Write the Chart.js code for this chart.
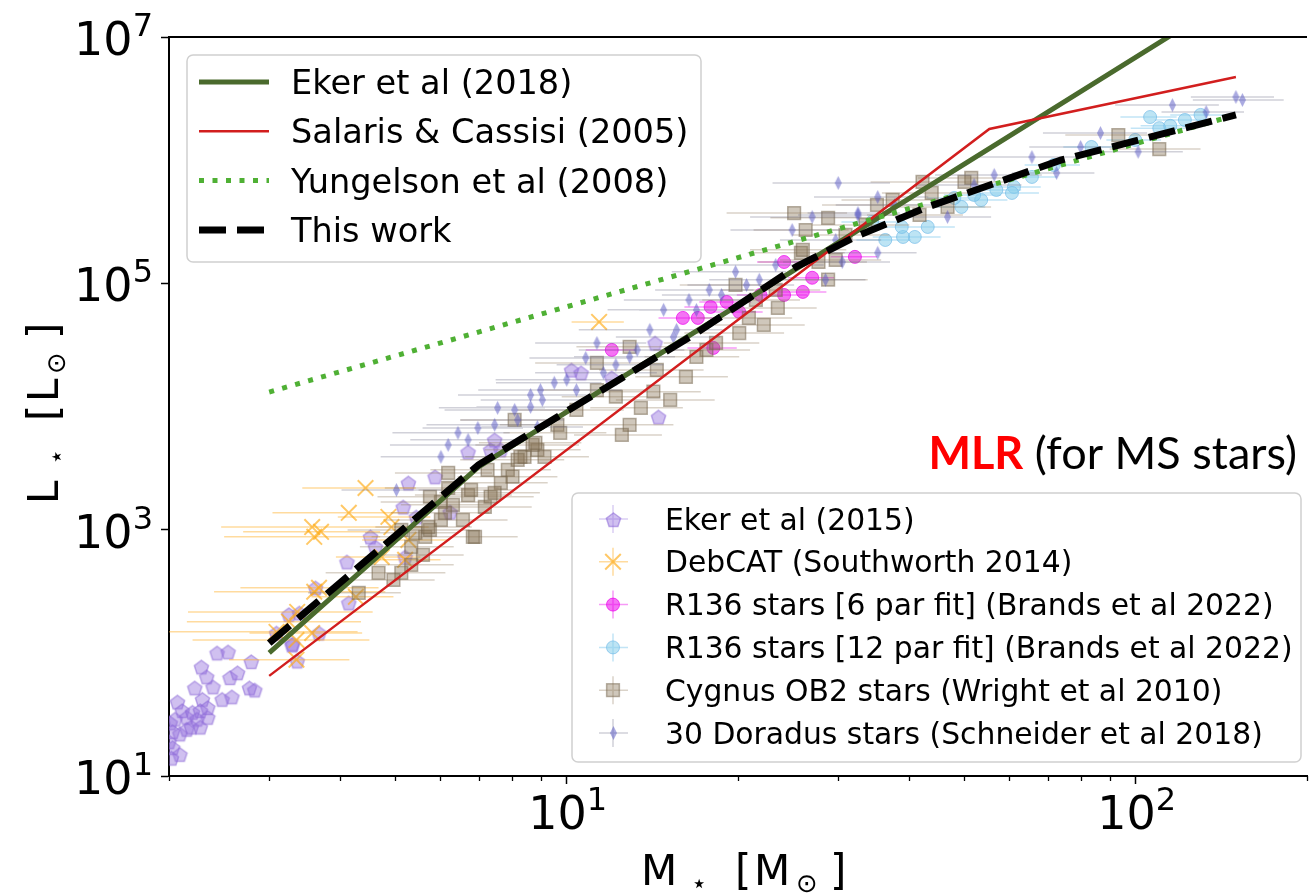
<!DOCTYPE html>
<html>
<head>
<meta charset="utf-8">
<script src="https://cdn.jsdelivr.net/npm/chart.js@4"></script>
<style>
  html, body { margin: 0; padding: 0; background: #fff; overflow: hidden; }
  #wrap { width: 1311px; height: 893px; overflow: hidden; }
  canvas { display: block; }
</style>
</head>
<body>
<div id="wrap"><canvas id="mlr" width="1320" height="893"></canvas></div>
<script>
/* ===============================
   Axis ranges and ticks
================================ */
const massRange = [2, 200];
const lumRange = [10, 1e7];
const xMajorTicks = [10, 100];
const xMinorTicks = [2, 3, 4, 5, 6, 7, 8, 9, 20, 30, 40, 50, 60, 70, 80, 90, 200];
const yMajorTicks = [10, 1e3, 1e5, 1e7];

/* ===============================
   Mass-luminosity relations
================================ */
const ekerMass = [3, 7, 150];
const ekerLum = [100, 3240, 2.2e7];

const salarisMass = [3, 55.3, 150];
const salarisLum = [65, 1.79e6, 4.73e6];

const yungelsonMass = [3, 150];
const yungelsonLum = [1.31e4, 2.33e6];

const thisWorkMass = [3, 7, 9.25, 16.9, 25.3, 32.1, 43.1, 73.8, 150];
const thisWorkLum = [120, 3360, 7360, 3.95e4, 1.36e5, 2.38e5, 4.17e5, 1.0e6, 2.33e6];

/* ===============================
   Star samples: [mass, lum, mass error]
================================ */
const eker2015Stars = [
  [2.43, 100], [2.54, 102], [2.28, 77], [2.79, 85], [2.56, 63], [2.64, 69], [2.77, 52],
  [2.83, 50], [2.22, 52], [2.33, 64], [2.29, 42], [2.39, 53], [2.48, 42], [2.58, 44],
  [2.07, 40], [2.11, 34], [2.15, 30], [2.20, 33], [2.27, 34], [2.34, 30], [2.05, 29],
  [2.03, 23], [2.09, 22], [2.15, 24], [2.19, 25], [2.03, 17], [2.09, 15], [2.02, 14],
  [2.24, 29], [2.34, 36], [2.27, 25], [2.00, 19], [2.01, 27],
  [5.27, 2400], [5.16, 1530], [4.52, 875], [4.11, 548], [3.62, 337], [3.39, 211],
  [3.29, 116], [4.14, 255], [3.67, 145], [3.09, 145], [6.24, 1390], [5.44, 1270],
  [5.20, 600], [7.35, 4450], [4.61, 725], [10.2, 19800], [14.5, 8240], [7.47, 5360],
  [14.3, 32800], [5.87, 2690], [3.30, 118], [3.36, 86], [3.25, 205],
  [7.66, 4450], [10.6, 18800], [12.0, 17100], [6.71, 4280]
];

const debcatStars = [
  [4.43, 2180, 1.0], [3.57, 1050, 1.1], [3.70, 960, 1.0], [3.60, 875, 1.1], [4.14, 1370, 1.1],
  [4.86, 1270, 0.9], [4.92, 1050, 0.8], [5.27, 826, 0.9], [3.60, 313, 1.2], [3.67, 337, 1.0],
  [3.36, 215, 1.2], [3.35, 88, 0.8], [3.09, 148, 1.2], [3.57, 145, 0.8], [4.26, 285, 0.7],
  [4.73, 600, 0.8], [5.20, 569, 0.8], [11.4, 48600, 1.2], [3.35, 127, 1.15], [3.25, 179, 1.1]
];

const r136SixPar = [
  [12.0, 28800, 1.2], [16.0, 52400, 1.5], [17.0, 52400, 1.6], [17.9, 64300, 1.8],
  [19.1, 70600, 2.0], [20.1, 58600, 2.0], [24.1, 149000, 2.5], [27.0, 111000, 2.5],
  [26.0, 85200, 2.6], [24.1, 80500, 2.4], [32.1, 164000, 3.0], [18.1, 29900, 1.8],
  [21.9, 80500, 2.0]
];

const r136TwelvePar = [
  [106, 2.24e6, 12], [110, 1.82e6, 12], [115, 1.90e6, 13], [122, 2.12e6, 14], [130, 2.33e6, 15],
  [99.8, 1.46e6, 11], [83.6, 1.28e6, 9], [71.8, 9.14e5, 8], [65.7, 7.31e5, 7], [61.1, 6.06e5, 7],
  [56.9, 5.73e5, 6], [53.5, 4.75e5, 6], [52.0, 5.22e5, 6], [49.4, 4.17e5, 5], [43.1, 2.87e5, 5],
  [40.9, 2.38e5, 4.5], [39.0, 2.38e5, 4.5], [38.8, 2.87e5, 4], [36.3, 2.25e5, 4],
  [60.6, 5.42e5, 7], [34.4, 3.15e5, 4], [48.0, 4.93e5, 5]
];

const cygnusStars = [
  [4.31, 307, 0.8], [4.67, 446, 0.9], [5.12, 446, 1.0], [5.33, 518, 1.0], [6.84, 875, 1.2],
  [5.64, 875, 1.1], [5.75, 995, 1.0], [6.01, 1200, 1.2], [6.01, 1680, 1.3], [5.75, 1850, 1.1],
  [6.19, 2180, 1.4], [6.71, 1910, 1.3], [7.18, 1530, 1.5], [7.35, 1850, 1.4], [7.66, 2400, 1.6],
  [7.88, 3060, 1.5], [8.43, 3900, 1.8], [8.88, 4450, 1.7], [8.03, 2690, 1.6], [5.33, 725, 1.0],
  [5.12, 995, 1.0], [7.47, 1990, 1.5],
  [6.31, 1590, 1.2], [6.57, 1200, 1.3], [7.26, 3060, 1.5], [8.20, 3690, 1.7], [8.71, 4880, 1.8],
  [9.63, 7100, 2.0], [10.4, 9380, 2.2], [11.3, 13600, 2.4], [14.4, 19800, 3.0], [17.6, 28800, 3.4],
  [21.5, 73300, 4.2], [23.3, 88400, 4.6], [30.9, 247000, 6], [33.5, 298000, 6.5],
  [4.96, 391, 0.9], [5.59, 624, 1.0],
  [25.1, 3.72e5, 6], [28.8, 3.40e5, 6], [26.3, 2.71e5, 5], [25.8, 1.77e5, 5], [27.7, 1.49e5, 6],
  [28.8, 1.07e5, 5], [19.8, 9.70e4, 4], [23.5, 6.31e4, 4], [22.2, 4.59e4, 4], [20.9, 5.24e4, 4],
  [20.1, 3.95e4, 4], [16.2, 1.74e4, 3], [15.2, 1.13e4, 3], [14.2, 1.32e4, 3], [13.5, 9750, 2.5],
  [12.9, 7100, 2.5], [12.5, 5880, 2.2], [11.3, 2.26e4, 2.5], [12.9, 3.05e4, 2.5], [12.2, 1.20e4, 2.4],
  [9.74, 6110, 2], [8.29, 3900, 1.6], [6.79, 2100, 1.3], [6.90, 875, 1.3], [5.71, 1050, 1.1],
  [6.11, 1370, 1.2], [5.42, 942, 1.0], [6.19, 2890, 1.2], [8.10, 7780, 1.6], [8.81, 5070, 1.8],
  [9.14, 3900, 1.8], [18.3, 3.28e4, 3.5], [16.9, 2.53e4, 3.2],
  [93.2, 1.60e6, 18], [110, 1.23e6, 20], [51.4, 7.18e5, 10], [50.0, 6.66e5, 9], [42.2, 6.66e5, 8],
  [43.8, 5.42e5, 8], [46.7, 4.17e5, 9], [37.4, 4.75e5, 7], [35.1, 4.33e5, 7], [41.7, 3.59e5, 8],
  [26.0, 1.87e5, 5], [29.7, 1.55e5, 6]
];

const dor30Stars = [
  [6.01, 3900, 1.3], [6.44, 6110, 1.5], [6.98, 6700, 1.4], [7.47, 7100, 1.8], [8.10, 9380, 2.0],
  [8.64, 9930, 1.7], [5.02, 2100, 1.0], [7.56, 9750, 1.6], [8.64, 12400, 2.2], [9.51, 15600, 2.0],
  [10.0, 16500, 2.5], [10.8, 24800, 2.2], [11.6, 18800, 2.8], [12.9, 25300, 2.6], [14.0, 41900, 3.5],
  [14.8, 60900, 3.0], [16.4, 73300, 3.8], [17.8, 88400, 3.5], [19.8, 124000, 4.5], [21.8, 107000, 4.0],
  [24.9, 271000, 5.5], [27.0, 346000, 6.0], [28.5, 107000, 5.0], [30.5, 149000, 6.5],
  [32.5, 359000, 7.0], [35.2, 177000, 6.0], [8.88, 6820, 1.8], [11.3, 32800, 2.5],
  [15.4, 36700, 3.2], [8.99, 13600, 2.0], [150, 3.26e6, 25], [154, 3.08e6, 28], [133, 2.46e6, 22],
  [86.7, 1.66e6, 18], [80.0, 1.28e6, 15], [65.7, 1.06e6, 14], [72.6, 7.87e5, 12], [101, 1.17e6, 20],
  [30.0, 6.53e5, 7], [35.2, 5.02e5, 8], [32.5, 3.72e5, 6], [46.7, 3.46e5, 9],
  [6.19, 4880, 1.3], [6.71, 5360, 1.4], [8.20, 7780, 1.7], [9.06, 11300, 2.0], [10.4, 13600, 2.1],
  [12.2, 21800, 2.6], [13.3, 28800, 2.8], [15.6, 41900, 3.2], [16.9, 60800, 3.5], [18.7, 80500, 4.0],
  [20.7, 97000, 4.4], [23.3, 141000, 5.0], [29.7, 225000, 6.0], [37.7, 433000, 8.0],
  [52.0, 630000, 11], [56.4, 759000, 12], [116, 2.8e6, 24]
];

/* ===============================
   Marker sprites
================================ */
function makePentagon(r, fill, stroke, lw) {
  const s = Math.ceil(2 * r + lw + 2);
  const c = document.createElement("canvas");
  c.width = c.height = s;
  const g = c.getContext("2d");
  g.beginPath();
  for (let i = 0; i < 5; i++) {
    const a = -Math.PI / 2 + (i * 2 * Math.PI) / 5;
    g.lineTo(s / 2 + r * Math.cos(a), s / 2 + 1 + r * Math.sin(a));
  }
  g.closePath();
  g.fillStyle = fill;
  g.fill();
  g.lineWidth = lw;
  g.strokeStyle = stroke;
  g.stroke();
  return c;
}

function makeThinDiamond(hw, hh, fill) {
  const c = document.createElement("canvas");
  c.width = Math.ceil(2 * hw + 2);
  c.height = Math.ceil(2 * hh + 2);
  const g = c.getContext("2d");
  const cx = c.width / 2, cy = c.height / 2;
  g.beginPath();
  g.moveTo(cx, cy - hh);
  g.lineTo(cx + hw, cy);
  g.lineTo(cx, cy + hh);
  g.lineTo(cx - hw, cy);
  g.closePath();
  g.fillStyle = fill;
  g.fill();
  return c;
}

const pentagonSprite = makePentagon(7.5, "rgba(150,115,222,0.45)", "rgba(140,105,215,0.55)", 1.5);
const diamondSprite = makeThinDiamond(3.5, 7, "rgba(85,85,195,0.5)");

/* ===============================
   Dataset builders
================================ */
const toPoints = (xs, ys) => xs.map((x, i) => ({ x: x, y: ys[i] }));
const starPoints = (stars) => stars.map((s) => ({ x: s[0], y: s[1] }));

// horizontal error bars as broken line segments
function errorSegments(stars) {
  const out = [];
  stars.forEach(([m, l, dm]) => {
    out.push({ x: m - dm, y: l }, { x: m + dm, y: l }, { x: m, y: null });
  });
  return out;
}

function errorDataset(stars, color, order) {
  return {
    type: "line",
    data: errorSegments(stars),
    borderColor: color,
    borderWidth: 1.5,
    pointRadius: 0,
    spanGaps: false,
    order: order,
  };
}

const lineSets = [
  { type: "line", label: "Eker et al (2018)", data: toPoints(ekerMass, ekerLum),
    borderColor: "#4a6a2d", borderWidth: 5, pointRadius: 0, order: 3 },
  { type: "line", label: "Salaris & Cassisi (2005)", data: toPoints(salarisMass, salarisLum),
    borderColor: "#d21e1e", borderWidth: 2.5, pointRadius: 0, order: 2 },
  { type: "line", label: "Yungelson et al (2008)", data: toPoints(yungelsonMass, yungelsonLum),
    borderColor: "#4fb034", borderWidth: 5, borderDash: [5, 8.5], borderCapStyle: "butt",
    pointRadius: 0, order: 1 },
  { type: "line", label: "This work", data: toPoints(thisWorkMass, thisWorkLum),
    borderColor: "#000000", borderWidth: 7, borderDash: [27, 11], borderCapStyle: "butt",
    pointRadius: 0, order: 0 },
];

const starSets = [
  { type: "scatter", label: "Eker et al (2015)", data: starPoints(eker2015Stars),
    pointStyle: pentagonSprite, pointRadius: 7, order: 9,
    errColor: "rgba(150,115,222,0.35)" },
  { type: "scatter", label: "DebCAT (Southworth 2014)", data: starPoints(debcatStars),
    pointStyle: "crossRot", pointRadius: 11, borderWidth: 2,
    borderColor: "rgba(255,170,20,0.65)", backgroundColor: "rgba(255,170,20,0.65)", order: 8,
    errColor: "rgba(255,175,40,0.45)" },
  { type: "scatter", label: "R136 stars [6 par fit] (Brands et al 2022)", data: starPoints(r136SixPar),
    pointStyle: "circle", pointRadius: 6.5, borderWidth: 1,
    backgroundColor: "rgba(235,0,235,0.55)", borderColor: "rgba(235,0,235,0.7)", order: 7,
    errColor: "rgba(235,0,235,0.4)" },
  { type: "scatter", label: "R136 stars [12 par fit] (Brands et al 2022)", data: starPoints(r136TwelvePar),
    pointStyle: "circle", pointRadius: 6.5, borderWidth: 1,
    backgroundColor: "rgba(135,206,235,0.55)", borderColor: "rgba(110,185,230,0.65)", order: 6,
    errColor: "rgba(120,195,235,0.45)" },
  { type: "scatter", label: "Cygnus OB2 stars (Wright et al 2010)", data: starPoints(cygnusStars),
    pointStyle: "rect", pointRadius: 9, borderWidth: 1.5,
    backgroundColor: "rgba(135,115,85,0.4)", borderColor: "rgba(115,100,75,0.5)", order: 5,
    errColor: "rgba(150,130,100,0.35)" },
  { type: "scatter", label: "30 Doradus stars (Schneider et al 2018)", data: starPoints(dor30Stars),
    pointStyle: diamondSprite, pointRadius: 5, order: 4,
    errColor: "rgba(115,115,140,0.33)" },
];

const errorSets = [
  errorDataset(debcatStars, starSets[1].errColor, 8.5),
  errorDataset(r136SixPar, starSets[2].errColor, 7.5),
  errorDataset(r136TwelvePar, starSets[3].errColor, 6.5),
  errorDataset(cygnusStars, starSets[4].errColor, 5.5),
  errorDataset(dor30Stars, starSets[5].errColor, 4.5),
];

/* ===============================
   Decorations: spines, ticks, labels, legends
================================ */
const FONT = "'DejaVu Sans', sans-serif";

function drawBox(ctx, x0, y0, x1, y1, r) {
  ctx.save();
  ctx.beginPath();
  ctx.moveTo(x0 + r, y0);
  ctx.arcTo(x1, y0, x1, y1, r);
  ctx.arcTo(x1, y1, x0, y1, r);
  ctx.arcTo(x0, y1, x0, y0, r);
  ctx.arcTo(x0, y0, x1, y0, r);
  ctx.closePath();
  ctx.fillStyle = "rgba(255,255,255,0.8)";
  ctx.fill();
  ctx.strokeStyle = "#d0d0d0";
  ctx.lineWidth = 1.5;
  ctx.stroke();
  ctx.restore();
}

function drawMarker(ctx, ds, x, y) {
  const st = ds.pointStyle;
  if (st instanceof HTMLCanvasElement) {
    ctx.drawImage(st, Math.round(x - st.width / 2), Math.round(y - st.height / 2));
    return;
  }
  const r = ds.pointRadius;
  ctx.fillStyle = ds.backgroundColor;
  ctx.strokeStyle = ds.borderColor;
  ctx.lineWidth = ds.borderWidth;
  ctx.beginPath();
  if (st === "circle") ctx.arc(x, y, r, 0, 2 * Math.PI);
  else if (st === "rect") {
    const h = r * Math.SQRT1_2;
    ctx.rect(x - h, y - h, 2 * h, 2 * h);
  } else if (st === "crossRot") {
    const h = r * Math.SQRT1_2;
    ctx.moveTo(x - h, y - h); ctx.lineTo(x + h, y + h);
    ctx.moveTo(x + h, y - h); ctx.lineTo(x - h, y + h);
  }
  if (st !== "crossRot") ctx.fill();
  ctx.stroke();
}

// "10" with a raised exponent
function drawPower(ctx, exp, x, baseY, align) {
  const sup = String(exp);
  ctx.font = "46px " + FONT;
  const wb = ctx.measureText("10").width;
  ctx.font = "32px " + FONT;
  const ws = ctx.measureText(sup).width;
  let left = align === "center" ? x - (wb + ws) / 2 : x - wb - ws;
  ctx.textAlign = "left";
  ctx.textBaseline = "alphabetic";
  ctx.font = "46px " + FONT;
  ctx.fillText("10", left, baseY);
  ctx.font = "32px " + FONT;
  ctx.fillText(sup, left + wb, baseY - 19);
}

// axis title pieces: [text, size, along-offset, baseline shift]
function drawPieces(ctx, pieces) {
  pieces.forEach(([t, size, dx, dy]) => {
    ctx.font = size + "px " + FONT;
    ctx.fillText(t, dx, dy);
  });
}

const decor = {
  id: "decor",
  afterDraw(chart) {
    const { ctx, chartArea: a, scales } = chart;
    const sx = scales.x, sy = scales.y;
    ctx.save();
    ctx.fillStyle = "#000";
    ctx.strokeStyle = "#000";

    // top spine
    ctx.lineWidth = 2;
    ctx.beginPath();
    ctx.moveTo(a.left, a.top);
    ctx.lineTo(a.right, a.top);
    ctx.stroke();

    // minor x ticks
    ctx.lineWidth = 1.3;
    xMinorTicks.forEach((v) => {
      const px = Math.round(sx.getPixelForValue(v)) + 0.5;
      ctx.beginPath();
      ctx.moveTo(px, a.bottom);
      ctx.lineTo(px, a.bottom + 5);
      ctx.stroke();
    });

    // tick labels
    xMajorTicks.forEach((v) => {
      drawPower(ctx, Math.round(Math.log10(v)), sx.getPixelForValue(v) + 1, a.bottom + 53, "center");
    });
    yMajorTicks.forEach((v) => {
      drawPower(ctx, Math.round(Math.log10(v)), 153, sy.getPixelForValue(v) + 18, "right");
    });

    // axis titles
    ctx.textAlign = "left";
    ctx.textBaseline = "alphabetic";
    ctx.save();
    ctx.translate((a.left + a.right) / 2 + 5, 885);
    drawPieces(ctx, [["M", 42, -102, 0], ["\u22C6", 26, -52, 7], ["[", 42, -8, 0],
                     ["M", 42, 11, 0], ["\u2299", 26, 53, 7], ["]", 42, 87, 0]]);
    ctx.restore();
    ctx.save();
    ctx.translate(58, 410);
    ctx.rotate(-Math.PI / 2);
    drawPieces(ctx, [["L", 42, -94, 0], ["\u22C6", 26, -55, 7], ["[", 42, -11, 0],
                     ["L", 42, 8, 0], ["\u2299", 26, 36, 7], ["]", 42, 71, 0]]);
    ctx.restore();

    // legend: relations
    drawBox(ctx, 187, 55, 701, 262, 6);
    lineSets.forEach((ds, i) => {
      const y = 82 + i * 49.3;
      ctx.save();
      ctx.strokeStyle = ds.borderColor;
      ctx.lineWidth = ds.borderWidth;
      ctx.setLineDash(ds.borderDash || []);
      ctx.lineCap = "butt";
      ctx.beginPath();
      ctx.moveTo(199, y);
      ctx.lineTo(269, y);
      ctx.stroke();
      ctx.restore();
      ctx.font = "33.6px " + FONT;
      ctx.fillStyle = "#000";
      ctx.fillText(ds.label, 291, y + 12);
    });

    // legend: samples
    drawBox(ctx, 572, 493, 1301, 762, 6);
    starSets.forEach((ds, i) => {
      const y = 519 + i * 42.8;
      ctx.save();
      ctx.strokeStyle = ds.errColor;
      ctx.lineWidth = 1.5;
      ctx.beginPath();
      ctx.moveTo(599, y); ctx.lineTo(628, y);
      ctx.moveTo(613, y - 14); ctx.lineTo(613, y + 14);
      ctx.stroke();
      drawMarker(ctx, ds, 613, y);
      ctx.restore();
      ctx.font = "29.8px " + FONT;
      ctx.fillStyle = "#000";
      ctx.fillText(ds.label, 665, y + 10.5);
    });

    // annotation
    ctx.font = "40px Lato, 'Open Sans', sans-serif";
    const w40 = ctx.measureText("(for MS stars)").width;
    const size = Math.round(40 * 262 / w40);
    ctx.font = size + "px Lato, 'Open Sans', sans-serif";
    ctx.textAlign = "right";
    ctx.fillStyle = "#000";
    ctx.fillText("(for MS stars)", 1297, 469);
    const w2 = ctx.measureText(" (for MS stars)").width;
    ctx.font = "bold " + size + "px Lato, 'Open Sans', sans-serif";
    ctx.fillStyle = "#ff0000";
    ctx.fillText("MLR", 1297 - w2, 469);

    ctx.restore();
  },
};

/* ===============================
   Chart
================================ */
new Chart(document.getElementById("mlr"), {
  type: "scatter",
  data: { datasets: [...lineSets, ...starSets, ...errorSets] },
  options: {
    responsive: false,
    animation: false,
    devicePixelRatio: 1,
    events: [],
    layout: { padding: { top: 37, left: 0, right: 5, bottom: 0 } },
    plugins: { legend: { display: false }, tooltip: { enabled: false } },
    scales: {
      x: {
        type: "logarithmic",
        position: "bottom",
        min: massRange[0],
        max: massRange[1],
        afterBuildTicks: (s) => { s.ticks = xMajorTicks.map((v) => ({ value: v, major: true })); },
        afterFit: (s) => { s.height = 117; },
        ticks: { display: false },
        grid: { drawOnChartArea: false, drawTicks: true, tickLength: 8, tickWidth: 1.5, tickColor: "#000" },
        border: { display: true, color: "#000", width: 2 },
      },
      y: {
        type: "logarithmic",
        position: "left",
        min: lumRange[0],
        max: lumRange[1],
        afterBuildTicks: (s) => { s.ticks = yMajorTicks.map((v) => ({ value: v, major: true })); },
        afterFit: (s) => { s.width = 169; },
        ticks: { display: false },
        grid: { drawOnChartArea: false, drawTicks: true, tickLength: 8, tickWidth: 1.5, tickColor: "#000" },
        border: { display: true, color: "#000", width: 2 },
      },
    },
  },
  plugins: [decor],
});
</script>
</body>
</html>
